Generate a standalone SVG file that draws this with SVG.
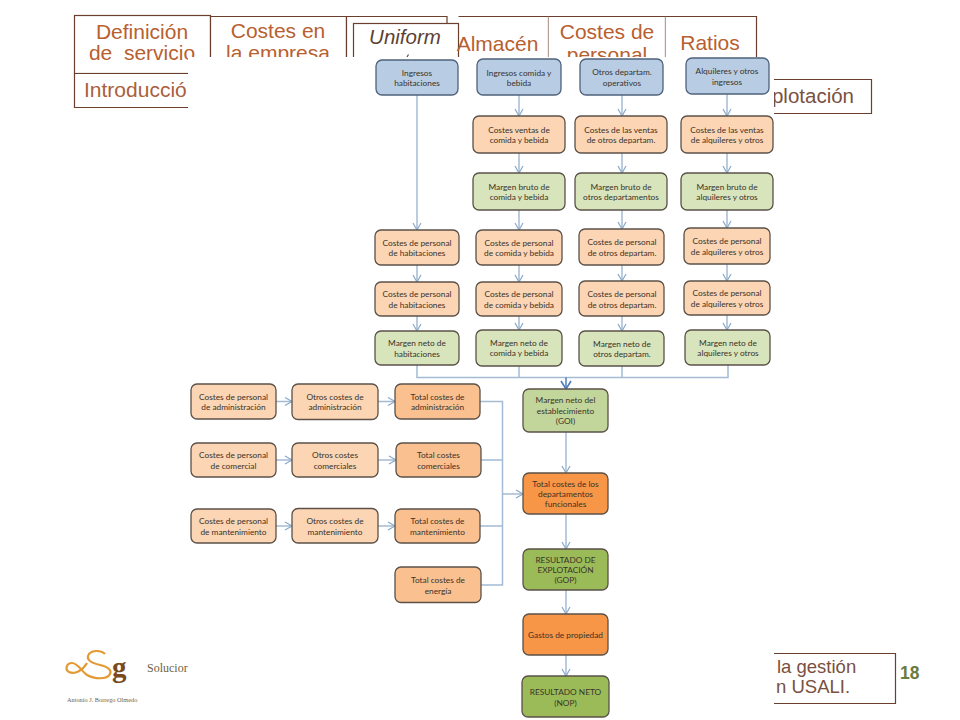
<svg xmlns="http://www.w3.org/2000/svg" width="960" height="720" viewBox="0 0 960 720">
<style>
.tabbox{fill:#fff;stroke:#6b3f2e;stroke-width:1.2}
.tab{font-family:"Liberation Sans",Arial,sans-serif;font-size:21px;fill:#b8602f;text-anchor:middle}
.tabd{font-family:"Liberation Sans",Arial,sans-serif;font-size:21px;fill:#7a5040}
.n{stroke:#5b5148;stroke-width:1.3}
.blue{fill:#b8cce4;stroke:#4f627c}
.pe{fill:#fcd5b4}
.to{fill:#fac090}
.gr{fill:#d8e4bc}
.gm{fill:#c2d69b}
.or{fill:#f79646}
.gd{fill:#9bbb59}
.t{font-family:Lato,"Open Sans",sans-serif;font-size:8.3px;fill:#3a3328;text-anchor:middle}
.c{fill:none;stroke:#a3bbd3;stroke-width:1.5}
.a{fill:none;stroke:#a3bbd3;stroke-width:1.5;marker-end:url(#h)}
</style>
<defs>
<marker id="h" markerWidth="10" markerHeight="10" refX="8" refY="5" orient="auto" markerUnits="userSpaceOnUse">
<path d="M1 1L8 5L1 9" fill="none" stroke="#8aa9c9" stroke-width="1.2"/>
</marker>
<marker id="hd" markerWidth="12" markerHeight="12" refX="9" refY="6" orient="auto" markerUnits="userSpaceOnUse">
<path d="M1 1L9 6L1 11" fill="none" stroke="#4a7ebb" stroke-width="1.6"/>
</marker>
</defs>
<rect width="960" height="720" fill="#fff"/>
<g id="tabs">
<rect class="tabbox" x="74.500" y="15.500" width="136" height="58"/>
<text class="tab" x="142" y="39">Definición</text>
<text class="tab" x="142" y="60" xml:space="preserve">de  servicio</text>
<path class="tabbox" d="M210.500 16.500H346.500V60H210.500Z"/>
<text class="tab" x="278" y="38">Costes en</text>
<text class="tab" x="278" y="60">la empresa</text>
<path class="tabbox" d="M346.500 16.500H447V60H346.500Z"/>
<rect class="tabbox" x="353.500" y="23.500" width="105" height="40"/>
<text x="405" y="44" font-family="Liberation Sans,Arial,sans-serif" font-size="20.500" font-style="italic" fill="#5e4234" text-anchor="middle">Uniform</text>
<path d="M407 57L408.500 54.500" stroke="#5e4234" stroke-width="1.2" fill="none"/>
<path class="tabbox" d="M458.500 16.500H548.500V60"/>
<text class="tab" x="497.500" y="51">Almacén</text>
<path class="tabbox" d="M548.500 16.500H665.500V60H548.500"/>
<text class="tab" x="607" y="39">Costes de</text>
<text class="tab" x="607" y="62">personal</text>
<path class="tabbox" d="M665.500 16.500H756.500V60H665.500"/>
<text class="tab" x="710" y="50">Ratios</text>
<path class="tabbox" d="M188 73.500H74.500V107.500H188"/>
<text class="tabd" x="84" y="97" style="fill:#a9603c">Introducció</text>
<path class="tabbox" d="M760 79.500H871.500V113.500H760"/>
<text class="tabd" x="854" y="103" text-anchor="end" style="font-size:20.500px">plotación</text>
<path class="tabbox" d="M760 653.500H895.500V703.500H760"/>
<text class="tabd" x="777" y="673" style="font-size:18.500px">la gestión</text>
<text class="tabd" x="776" y="693" style="font-size:18.500px">n USALI.</text>
</g>
<rect x="188" y="57" width="586" height="663" fill="#fff"/>
<g id="logo">
<path d="M105 654C101 650 92 650 89 654C85 660 92 663 100 665C108 667 112 670 110 674C107 680 94 679 87 675C81 671 78 663 72 663C66 663 65 670 69 672C75 675 83 670 87 663" fill="none" stroke="#e39a35" stroke-width="2.200"/>
<text x="112" y="677" font-family="Liberation Serif,serif" font-size="29" font-weight="bold" fill="#7a4a1c">g</text>
<text x="147" y="672" font-family="Liberation Serif,serif" font-size="12" fill="#6f6248">Solucior</text>
<text x="67" y="702" font-family="Liberation Serif,serif" font-size="6.300" fill="#6f6248">Antonio J. Borrego Olmedo</text>
</g>
<text id="page" x="900" y="679" font-family="Liberation Sans,Arial,sans-serif" font-size="17.500" font-weight="bold" fill="#6b7a3d">18</text>
<g id="connectors">
<path class="a" d="M417 95V230"/>
<path class="a" d="M519 95V116"/><path class="a" d="M622 95V116"/><path class="a" d="M727 94V116"/>
<path class="a" d="M519 153V173"/><path class="a" d="M622 153V173"/><path class="a" d="M727 153V173"/>
<path class="a" d="M519 210V230"/><path class="a" d="M622 210V229"/><path class="a" d="M727 210V228"/>
<path class="a" d="M417 265V282"/><path class="a" d="M519 265V282"/><path class="a" d="M622 265V281"/><path class="a" d="M727 264V281"/>
<path class="a" d="M417 316V331"/><path class="a" d="M519 316V330"/><path class="a" d="M622 316V331"/><path class="a" d="M727 315V330"/>
<path class="c" d="M417 365V377.500H728V365M519 366V377.500M622 366V377.500"/>
<path d="M566 377.500V389" fill="none" stroke="#4a7ebb" stroke-width="1.5" marker-end="url(#hd)"/>
<path class="a" d="M566 432V473"/><path class="a" d="M566 514V549"/><path class="a" d="M566 590V614"/><path class="a" d="M566 655V676"/>
<path class="a" d="M276 401.500H292"/><path class="a" d="M378 401.500H395"/>
<path class="a" d="M276 460H292"/><path class="a" d="M378 460H396"/>
<path class="a" d="M276 526H292"/><path class="a" d="M378 526H395"/>
<path class="c" d="M480 401.500H502.500V585H481M481 460H502.500M480 526H502.500"/>
<path class="a" d="M502.500 494H523"/>
</g>
<g id="n-ing-hab"><rect class="n blue" x="376" y="60" width="82" height="35" rx="6"/><text class="t" x="417" y="75.500">Ingresos</text><text class="t" x="417" y="86">habitaciones</text></g>
<g id="n-ing-com"><rect class="n blue" x="477" y="59" width="84" height="36" rx="6"/><text class="t" x="519" y="75.500">Ingresos comida y</text><text class="t" x="519" y="86">bebida</text></g>
<g id="n-ing-otr"><rect class="n blue" x="580" y="59" width="83" height="36" rx="6"/><text class="t" x="622" y="75">Otros departam.</text><text class="t" x="622" y="85.500">operativos</text></g>
<g id="n-ing-alq"><rect class="n blue" x="686" y="58" width="83" height="36" rx="6"/><text class="t" x="727" y="74">Alquileres y otros</text><text class="t" x="727" y="84.500">ingresos</text></g>
<g id="n-cv-com"><rect class="n pe" x="473" y="116" width="92" height="37" rx="6"/><text class="t" x="519" y="132.500">Costes ventas de</text><text class="t" x="519" y="143">comida y bebida</text></g>
<g id="n-cv-otr"><rect class="n pe" x="575" y="116" width="92" height="37" rx="6"/><text class="t" x="621" y="132.500">Costes de las  ventas</text><text class="t" x="621" y="143">de otros departam.</text></g>
<g id="n-cv-alq"><rect class="n pe" x="681" y="116" width="92" height="37" rx="6"/><text class="t" x="727" y="132.500">Costes de las ventas</text><text class="t" x="727" y="143">de alquileres y otros</text></g>
<g id="n-mb-com"><rect class="n gr" x="473" y="173" width="92" height="37" rx="6"/><text class="t" x="519" y="189.500">Margen bruto de</text><text class="t" x="519" y="200">comida y bebida</text></g>
<g id="n-mb-otr"><rect class="n gr" x="575" y="173" width="92" height="37" rx="6"/><text class="t" x="621" y="189.500">Margen bruto de</text><text class="t" x="621" y="200">otros departamentos</text></g>
<g id="n-mb-alq"><rect class="n gr" x="681" y="173" width="92" height="37" rx="6"/><text class="t" x="727" y="189.500">Margen bruto de</text><text class="t" x="727" y="200">alquileres y otros</text></g>
<g id="n-cp1-hab"><rect class="n pe" x="375" y="230" width="84" height="35" rx="6"/><text class="t" x="417" y="245.500">Costes de personal</text><text class="t" x="417" y="256">de habitaciones</text></g>
<g id="n-cp1-com"><rect class="n pe" x="476" y="230" width="86" height="35" rx="6"/><text class="t" x="519" y="245.500">Costes de personal</text><text class="t" x="519" y="256">de comida y bebida</text></g>
<g id="n-cp1-otr"><rect class="n pe" x="579" y="229" width="85" height="36" rx="6"/><text class="t" x="622" y="245">Costes de personal</text><text class="t" x="622" y="255.500">de otros departam.</text></g>
<g id="n-cp1-alq"><rect class="n pe" x="684" y="228" width="86" height="36" rx="6"/><text class="t" x="727" y="244">Costes de personal</text><text class="t" x="727" y="254.500">de alquileres y otros</text></g>
<g id="n-cp2-hab"><rect class="n pe" x="375" y="282" width="84" height="34" rx="6"/><text class="t" x="417" y="297">Costes de personal</text><text class="t" x="417" y="307.500">de habitaciones</text></g>
<g id="n-cp2-com"><rect class="n pe" x="476" y="282" width="86" height="34" rx="6"/><text class="t" x="519" y="297">Costes de personal</text><text class="t" x="519" y="307.500">de comida y bebida</text></g>
<g id="n-cp2-otr"><rect class="n pe" x="579" y="281" width="85" height="35" rx="6"/><text class="t" x="622" y="297">Costes de personal</text><text class="t" x="622" y="307.500">de otros departam.</text></g>
<g id="n-cp2-alq"><rect class="n pe" x="684" y="281" width="86" height="34" rx="6"/><text class="t" x="727" y="296">Costes de personal</text><text class="t" x="727" y="306.500">de alquileres y otros</text></g>
<g id="n-mn-hab"><rect class="n gr" x="375" y="331" width="84" height="34" rx="6"/><text class="t" x="417" y="346">Margen neto de</text><text class="t" x="417" y="356.500">habitaciones</text></g>
<g id="n-mn-com"><rect class="n gr" x="476" y="330" width="86" height="36" rx="6"/><text class="t" x="519" y="345.500">Margen neto de</text><text class="t" x="519" y="356">comida y bebida</text></g>
<g id="n-mn-otr"><rect class="n gr" x="579" y="331" width="85" height="35" rx="6"/><text class="t" x="622" y="346.500">Margen neto de</text><text class="t" x="622" y="357">otros departam.</text></g>
<g id="n-mn-alq"><rect class="n gr" x="685" y="330" width="85" height="35" rx="6"/><text class="t" x="728" y="345.500">Margen neto de</text><text class="t" x="728" y="356">alquileres y otros</text></g>
<g id="n-cp-adm"><rect class="n pe" x="191" y="384" width="85" height="35" rx="6"/><text class="t" x="233.500" y="399.500">Costes de personal</text><text class="t" x="233.500" y="410">de administración</text></g>
<g id="n-oc-adm"><rect class="n pe" x="292" y="384" width="86" height="35.500" rx="6"/><text class="t" x="335" y="399.500">Otros costes de</text><text class="t" x="335" y="410">administración</text></g>
<g id="n-tc-adm"><rect class="n to" x="395" y="384" width="85" height="35" rx="6"/><text class="t" x="437.500" y="399.500">Total costes de</text><text class="t" x="437.500" y="410">administración</text></g>
<g id="n-cp-com"><rect class="n pe" x="191" y="443" width="85" height="34" rx="6"/><text class="t" x="233.500" y="458">Costes de personal</text><text class="t" x="233.500" y="468.500">de comercial</text></g>
<g id="n-oc-com"><rect class="n pe" x="292" y="443" width="86" height="34" rx="6"/><text class="t" x="335" y="458">Otros costes</text><text class="t" x="335" y="468.500">comerciales</text></g>
<g id="n-tc-com"><rect class="n to" x="396" y="443" width="85" height="34" rx="6"/><text class="t" x="438.500" y="458">Total costes</text><text class="t" x="438.500" y="468.500">comerciales</text></g>
<g id="n-cp-man"><rect class="n pe" x="191" y="509" width="85" height="34" rx="6"/><text class="t" x="233.500" y="524">Costes de personal</text><text class="t" x="233.500" y="534.500">de mantenimiento</text></g>
<g id="n-oc-man"><rect class="n pe" x="292" y="508.500" width="86" height="34.500" rx="6"/><text class="t" x="335" y="524">Otros costes de</text><text class="t" x="335" y="534.500">mantenimiento</text></g>
<g id="n-tc-man"><rect class="n to" x="395" y="509" width="85" height="34" rx="6"/><text class="t" x="437.500" y="524">Total costes de</text><text class="t" x="437.500" y="534.500">mantenimiento</text></g>
<g id="n-tc-ene"><rect class="n to" x="395" y="567" width="86" height="35.500" rx="6"/><text class="t" x="438" y="583">Total costes de</text><text class="t" x="438" y="593.500">energía</text></g>
<g id="n-goi"><rect class="n gm" x="523" y="389" width="85" height="43" rx="6"/><text class="t" x="565.500" y="403">Margen neto del</text><text class="t" x="565.500" y="413.500">establecimiento</text><text class="t" x="565.500" y="423.500">(GOI)</text></g>
<g id="n-func"><rect class="n or" x="523" y="473" width="85" height="41" rx="6"/><text class="t" x="565.500" y="486.500">Total costes de los</text><text class="t" x="565.500" y="497">departamentos</text><text class="t" x="565.500" y="507">funcionales</text></g>
<g id="n-gop"><rect class="n gd" x="523" y="549" width="85" height="41" rx="6"/><text class="t" x="565.500" y="562.500">RESULTADO DE</text><text class="t" x="565.500" y="573">EXPLOTACIÓN</text><text class="t" x="565.500" y="583">(GOP)</text></g>
<g id="n-prop"><rect class="n or" x="523" y="614" width="85" height="41" rx="6"/><text class="t" x="565.500" y="638">Gastos de propiedad</text></g>
<g id="n-nop"><rect class="n gd" x="522" y="676" width="87" height="41" rx="6"/><text class="t" x="565.500" y="695">RESULTADO NETO</text><text class="t" x="565.500" y="705.500">(NOP)</text></g>
</svg>
